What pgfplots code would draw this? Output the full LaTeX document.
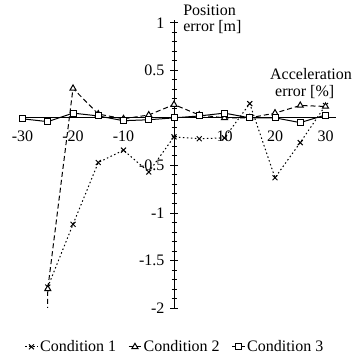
\documentclass[border=0pt]{standalone}
\usepackage{fontspec}
\setmainfont{Liberation Serif}
\usepackage{pgfplots}
\pgfplotsset{compat=1.18}
\newcommand{\tfont}{\fontsize{16}{16}\selectfont}
\begin{document}
\tfont
\begin{tikzpicture}
\begin{axis}[
  scale only axis, width=315.6pt, height=288pt,
  xmin=-30.5, xmax=32, ymin=-2, ymax=1.03,
  axis lines=middle,
  axis line style={-, line width=1pt},
  xtick={-30,-20,-10,10,20,30},
  ytick={-2,-1.5,-1,-0.5,0.5,1},
  minor ytick={-1.9,-1.8,-1.7,-1.6,-1.4,-1.3,-1.2,-1.1,-0.9,-0.8,-0.7,-0.6,-0.4,-0.3,-0.2,-0.1,0.1,0.2,0.3,0.4,0.6,0.7,0.8,0.9},
  x tick style={draw=none},
  y tick style={line width=0.8pt, black},
  tick align=center,
  major tick length=8pt, minor tick length=5pt,
  /pgf/number format/assume math mode=true,
  /pgf/number format/fixed,
  every tick label/.append style={font=\tfont},
  xticklabel style={yshift=-3pt},
  legend style={at={(0.491,-0.135)}, anchor=center, legend columns=3, draw=none, fill=none, font=\tfont,
    /tikz/every even column/.append style={column sep=10pt}},
  legend cell align=left,
  legend image code/.code={\draw[mark repeat=2,mark phase=2] plot coordinates {(0cm,0cm) (0.22cm,0cm) (0.44cm,0cm)};},
]
\addplot[black, line width=1pt, dash pattern=on 1.5pt off 2.5pt, mark=x, mark size=3.5pt, mark options={solid}] coordinates {
(-25,-1.78) (-20,-1.12) (-15,-0.47) (-10,-0.34) (-5,-0.57) (0,-0.2) (5,-0.22) (10,-0.21) (15,0.15) (20,-0.63) (25,-0.26) (30,0.13)};
\addlegendentry{Condition 1}
\addplot[black, line width=1pt, dash pattern=on 5pt off 3pt, mark=triangle*, mark size=3.5pt, mark options={solid, fill=white}] coordinates {
(-30,-40) (-25,-1.8) (-20,0.31) (-15,0.04) (-10,-0.01) (-5,0.03) (0,0.14) (5,0.03) (10,0.0) (15,0.0) (20,0.05) (25,0.13) (30,0.12)};
\addlegendentry{Condition 2}
\addplot[black, line width=1pt, mark=square*, mark size=3pt, mark options={solid, fill=white}] coordinates {
(-30,-0.01) (-25,-0.04) (-20,0.05) (-15,0.02) (-10,-0.03) (-5,-0.02) (0,0) (5,0.02) (10,0.05) (15,0) (20,0) (25,-0.05) (30,0.03)};
\addlegendentry{Condition 3}
\coordinate (P) at (axis cs:1.8,1.19);
\coordinate (A) at (axis cs:19.0,0.52);
\end{axis}
\node[anchor=north west, align=left, inner sep=0pt, font=\tfont] at (P) {Position\\error [m]};
\node[anchor=north west, align=left, inner sep=0pt, font=\fontsize{16}{17}\selectfont] at (A) {Acceleration\\\hspace*{5pt}error [\%]};
\pgfresetboundingbox
\path (-20pt,-49pt) rectangle (334pt,308pt);
\end{tikzpicture}
\end{document}
